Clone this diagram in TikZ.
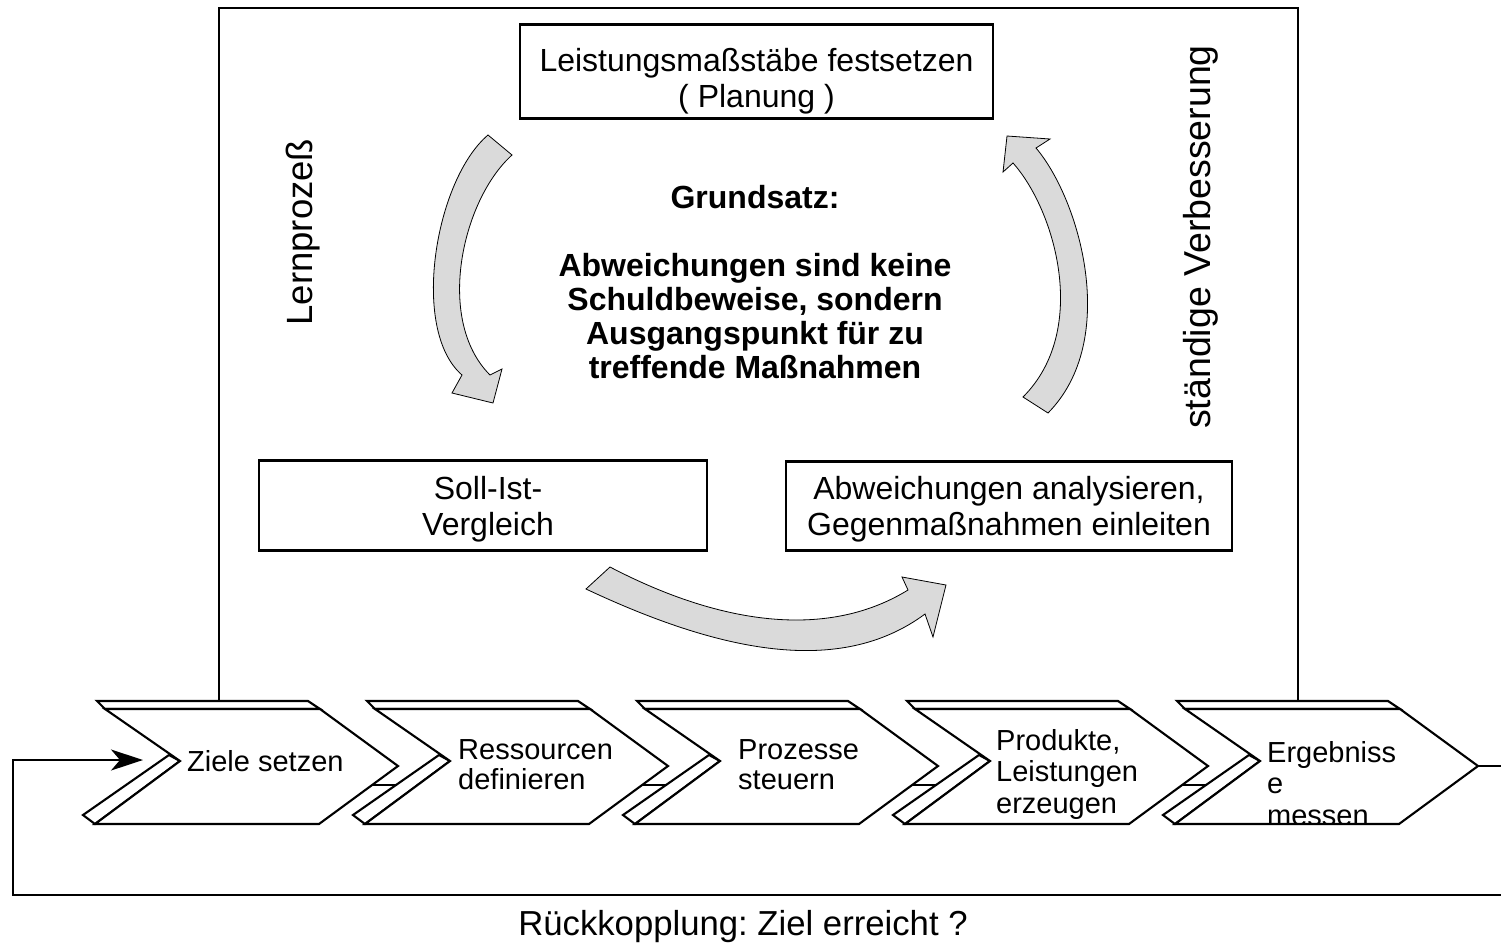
\documentclass[tikz,border=0pt]{standalone}
\usepackage{fontspec}
\setmainfont{Liberation Sans}
\usetikzlibrary{arrows.meta}
\definecolor{arrowgray}{RGB}{218,218,218}
\newcommand\fsz[2]{\fontsize{#1pt}{#2pt}\selectfont}
\frenchspacing
\begin{document}
\begin{tikzpicture}[x=1pt,y=-1pt,
  frameline/.style={line width=2.6pt, line join=miter},
  box/.style={draw, line width=2.6pt, inner sep=0pt},
  boxtext/.style={inner sep=0pt, align=center, font=\fsz{32}{35.5}},
  chev/.style={draw, fill=white, line width=2.1pt, line join=miter},
  chevtext/.style={inner sep=0pt, align=left, anchor=north west, font=\fsz{29}{31}},
  bendarrow/.style={draw, fill=arrowgray, line width=0.8pt, line join=miter},
  feedback/.style={line width=1.7pt},
  sidelabel/.style={rotate=90, anchor=base, inner sep=0pt},
]
\useasboundingbox (0,0) rectangle (1501,943);

% outer frame
\coordinate (fl) at (219,701);
\coordinate (ftl) at (219,8);
\coordinate (ftr) at (1298,8);
\coordinate (fr) at (1298,701);
\draw[frameline] (fl) -- (ftl) -- (ftr) -- (fr);

% boxes
\node[box, minimum width=473pt, minimum height=93.5pt] (plan) at (756.5,71.5) {};
\node[boxtext] (plantext) at (756.5,81) {Leistungsmaßstäbe festsetzen\\( Planung )};
\node[box, minimum width=448pt, minimum height=89.5pt] (soll) at (483,505.5) {};
\node[boxtext] (solltext) at (488,509) {Soll-Ist-\\Vergleich};
\node[box, minimum width=446pt, minimum height=89.5pt] (abw) at (1009,506) {};
\node[boxtext] (abwtext) at (1009,509) {Abweichungen analysieren,\\Gegenmaßnahmen einleiten};

% central statement
\node[inner sep=0pt, align=center, font=\bfseries\fsz{32}{34}] (grund) at (755,282)
  {Grundsatz:\\[34pt]Abweichungen sind keine\\Schuldbeweise, sondern\\Ausgangspunkt für zu\\treffende Maßnahmen};

% side labels
\node[sidelabel, font=\fsz{36.5}{40}] (lern) at (312,232) {Lernprozeß};
\node[sidelabel, font=\fsz{37.5}{40}] (verb) at (1210,237) {ständige Verbesserung};

% curved arrows
\draw[bendarrow] (488,135) .. controls (435,180) and (410,330) .. (462,375)
  -- (452,393) -- (493,403) -- (502,369) -- (490,375)
  .. controls (435,320) and (462,200) .. (512,155) -- cycle;
\draw[bendarrow] (1048,413) .. controls (1120,340) and (1080,200) .. (1036,148)
  -- (1050,139) -- (1007,136) -- (1003,172) -- (1013,163)
  .. controls (1055,210) and (1090,330) .. (1023,397) -- cycle;
\draw[bendarrow] (610,567) .. controls (725,627) and (830,638) .. (908,590)
  -- (902,577) -- (946,585) -- (933,637) -- (925,614)
  .. controls (840,677) and (720,652) .. (586,589) -- cycle;

% chevrons
\foreach \X in {105,375,645,915,1185}{
  \draw[chev] (\X,709) -- ({\X-8},701) -- ({\X+203},701) -- ({\X+215},709) -- cycle;
  \draw[chev] ({\X+75},761) -- ({\X+64},755) -- ({\X-22},815) -- ({\X-10},824) -- cycle;
  \draw[chev] (\X,709) -- ({\X+75},761) -- ({\X-10},824) -- ({\X+214},824)
    -- ({\X+293},766) -- ({\X+215},709) -- cycle;
}
\foreach \X in {105,375,645,915}{
  \draw[line width=2.1pt] ({\X+267},785) -- ({\X+291},785);
}

% chevron texts
\node[inner sep=0pt, anchor=base west, font=\fsz{29}{31}] (z1) at (187,771) {Ziele setzen};
\node[chevtext, font=\fsz{29}{30.5}] (z2) at (458,739) {Ressourcen\\definieren};
\node[chevtext, font=\fsz{29}{30.5}] (z3) at (738,739) {Prozesse\\steuern};
\node[chevtext, font=\fsz{29}{31.5}] (z4) at (996,729) {Produkte,\\Leistungen\\erzeugen};
\begin{scope}
  \clip (1185,709) -- (1260,761) -- (1175,824) -- (1399,824) -- (1478,766) -- (1400,709) -- cycle;
  \node[chevtext, font=\fsz{29}{31.5}] (z5) at (1267,741) {Ergebniss\\e\\messen};
\end{scope}

% feedback loop
\coordinate (c5tip) at (1478,766);
\coordinate (outR) at (1501,766);
\coordinate (botR) at (1501,895);
\coordinate (botL) at (13,895);
\coordinate (upL) at (13,760);
\coordinate (c1in) at (143,760);
\draw[feedback] (c5tip) -- (outR);
\draw[feedback, -{Stealth[length=32pt, width=21pt, inset=9pt]}] (botR) -- (botL) -- (upL) -- (c1in);

\node[inner sep=0pt, anchor=base, font=\fsz{34.7}{38}] (rueck) at (743,935) {Rückkopplung: Ziel erreicht ?};
\end{tikzpicture}
\end{document}
